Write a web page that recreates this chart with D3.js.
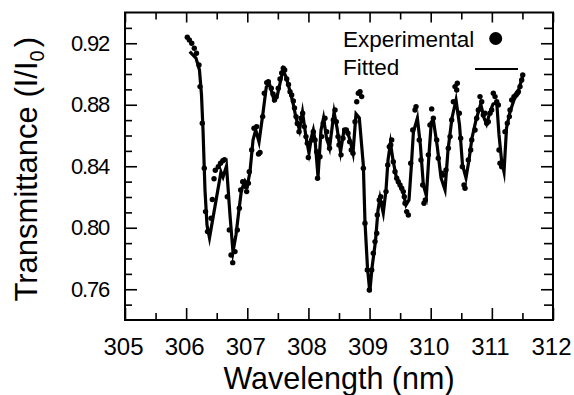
<!DOCTYPE html>
<html>
<head>
<meta charset="utf-8">
<script src="https://cdn.jsdelivr.net/npm/d3@7"></script>
<style>
  html, body { margin: 0; padding: 0; background: #fff; }
  svg { display: block; font-family: "Liberation Sans", Arial, sans-serif; }
</style>
</head>
<body>
<div id="chart"></div>
<script>
// experimental points (wavelength in nm, transmittance I/I0)
const expWavelength = [306.019,306.052,306.091,306.133,306.169,306.210,306.227,306.264,306.297,306.317,
  306.349,306.407,306.428,306.456,306.477,306.526,306.562,306.600,306.627,306.673,
  306.706,306.734,306.762,306.799,306.837,306.870,306.892,306.925,306.951,306.979,
  306.990,307.017,307.033,307.072,307.110,307.154,307.184,307.208,307.252,307.278,
  307.318,307.344,307.393,307.421,307.445,307.470,307.507,307.535,307.563,307.589,
  307.612,307.645,307.674,307.699,307.726,307.753,307.772,307.797,307.818,307.846,
  307.879,307.906,307.933,307.960,307.982,307.998,308.054,308.080,308.108,308.135,
  308.149,308.189,308.217,308.243,308.271,308.299,308.325,308.345,308.407,308.435,
  308.456,308.484,308.500,308.533,308.565,308.593,308.620,308.647,308.675,308.701,
  308.729,308.762,308.790,308.816,308.844,308.871,308.898,308.925,308.963,308.996,
  309.035,309.061,309.089,309.117,309.127,309.159,309.182,309.199,309.269,309.297,
  309.323,309.346,309.362,309.388,309.416,309.444,309.470,309.498,309.526,309.552,
  309.568,309.580,309.607,309.634,309.673,309.706,309.743,309.760,309.813,309.841,
  309.869,309.890,309.912,309.961,309.988,310.016,310.043,310.098,310.124,310.180,
  310.206,310.250,310.288,310.316,310.343,310.370,310.397,310.425,310.435,310.468,
  310.490,310.517,310.545,310.561,310.615,310.654,310.671,310.725,310.752,310.779,
  310.806,310.834,310.860,310.888,310.916,310.942,310.970,310.997,311.024,311.052,
  311.080,311.106,311.117,311.133,311.161,311.215,311.253,311.286,311.297,311.325,
  311.362,311.395,311.416,311.433,311.461,311.488,311.505];
const expTransmittance = [0.9239,0.9221,0.9200,0.9167,0.9135,0.9059,0.8918,0.8680,0.8387,0.8105,
  0.7975,0.8062,0.8184,0.8319,0.8374,0.8397,0.8420,0.8436,0.8443,0.8202,
  0.7986,0.7823,0.7773,0.7845,0.7986,0.8127,0.8246,0.8300,0.8293,0.8267,
  0.8235,0.8289,0.8365,0.8506,0.8647,0.8658,0.8480,0.8490,0.8723,0.8875,
  0.8944,0.8950,0.8907,0.8870,0.8831,0.8851,0.8907,0.8968,0.9007,0.9037,
  0.9026,0.8968,0.8932,0.8885,0.8864,0.8825,0.8779,0.8723,0.8678,0.8625,
  0.8712,0.8745,0.8658,0.8593,0.8550,0.8457,0.8571,0.8625,0.8571,0.8495,
  0.8322,0.8462,0.8593,0.8680,0.8712,0.8625,0.8571,0.8517,0.8701,0.8766,
  0.8690,0.8593,0.8539,0.8474,0.8582,0.8636,0.8636,0.8615,0.8560,0.8506,
  0.8485,0.8690,0.8820,0.8875,0.8885,0.8853,0.8387,0.8029,0.7726,0.7595,
  0.7726,0.7834,0.7910,0.7964,0.8083,0.8181,0.8202,0.8159,0.8235,0.8408,
  0.8527,0.8539,0.8571,0.8430,0.8365,0.8322,0.8300,0.8278,0.8257,0.8235,
  0.8202,0.8159,0.8105,0.8083,0.8420,0.8636,0.8766,0.8788,0.8571,0.8441,
  0.8278,0.8159,0.8181,0.8474,0.8669,0.8773,0.8712,0.8571,0.8452,0.8354,
  0.8343,0.8376,0.8517,0.8593,0.8701,0.8820,0.8918,0.8896,0.8940,0.8745,
  0.8582,0.8397,0.8278,0.8257,0.8441,0.8506,0.8571,0.8636,0.8712,0.8766,
  0.8853,0.8820,0.8734,0.8745,0.8680,0.8690,0.8745,0.8766,0.8875,0.8853,
  0.8820,0.8799,0.8506,0.8420,0.8397,0.8625,0.8680,0.8723,0.8766,0.8831,
  0.8853,0.8864,0.8875,0.8885,0.8918,0.8961,0.8994];

// fitted curve vertices
const fitWavelength = [306.058,306.161,306.218,306.251,306.276,306.308,306.341,306.382,306.570,306.603,
  306.660,306.717,306.766,306.815,306.864,306.905,306.963,307.003,307.044,307.094,
  307.138,307.192,307.257,307.311,307.363,307.437,307.486,307.584,307.641,307.748,
  307.797,307.854,307.903,307.960,308.009,308.050,308.080,308.108,308.157,308.206,
  308.247,308.296,308.345,308.419,308.468,308.525,308.582,308.631,308.680,308.729,
  308.778,308.832,308.898,308.925,308.966,309.004,309.040,309.097,309.138,309.171,
  309.224,309.269,309.302,309.342,309.383,309.433,309.498,309.547,309.596,309.645,
  309.684,309.717,309.782,309.831,309.880,309.929,309.977,310.010,310.043,310.104,
  310.169,310.234,310.283,310.348,310.414,310.471,310.520,310.577,310.626,310.675,
  310.741,310.818,310.872,310.913,310.970,311.019,311.080,311.117,311.158,311.199,
  311.240,311.297,311.362,311.428,311.505];
const fitTransmittance = [0.9145,0.9104,0.9026,0.8864,0.8636,0.8246,0.8018,0.7934,0.8363,0.8330,
  0.8402,0.8083,0.7843,0.7953,0.8116,0.8246,0.8304,0.8278,0.8363,0.8571,
  0.8636,0.8558,0.8746,0.8916,0.8935,0.8831,0.8851,0.9026,0.8974,0.8812,
  0.8714,0.8636,0.8753,0.8591,0.8486,0.8591,0.8636,0.8571,0.8331,0.8636,
  0.8714,0.8584,0.8519,0.8753,0.8649,0.8493,0.8636,0.8630,0.8571,0.8487,
  0.8741,0.8714,0.8408,0.8038,0.7739,0.7582,0.7739,0.7914,0.8116,0.8194,
  0.8096,0.8246,0.8441,0.8551,0.8441,0.8337,0.8272,0.8233,0.8148,0.8181,
  0.8408,0.8623,0.8714,0.8538,0.8278,0.8207,0.8506,0.8688,0.8701,0.8538,
  0.8324,0.8246,0.8506,0.8714,0.8831,0.8668,0.8408,0.8324,0.8441,0.8584,
  0.8701,0.8805,0.8714,0.8675,0.8753,0.8805,0.8812,0.8604,0.8441,0.8363,
  0.8649,0.8753,0.8831,0.8883,0.8987];

const xTicks = [305, 306, 307, 308, 309, 310, 311, 312];
const yTicks = [0.76, 0.80, 0.84, 0.88, 0.92];
const legendLabels = ['Experimental', 'Fitted'];

const W = 574, H = 395;
const margin = { top: 12.5, right: 21, bottom: 75, left: 125 };
const width = W - margin.left - margin.right;
const height = H - margin.top - margin.bottom;

const svg = d3.select('#chart').append('svg')
  .attr('width', W)
  .attr('height', H);

const g = svg.append('g')
  .attr('transform', `translate(${margin.left},${margin.top})`);

const x = d3.scaleLinear().domain([305, 312]).range([0, width]);
const y = d3.scaleLinear().domain([0.74, 0.94]).range([height, 0]);

const xMinor = d3.range(305.5, 312, 1);
const yMinor = d3.range(75, 94).map(d => d / 100).filter(d => Math.round(d * 100) % 4 !== 0);

const tickStyle = a => a.selectAll('.tick line').attr('stroke', '#000').attr('stroke-width', 1.6);

// bottom axis
g.append('g')
  .attr('transform', `translate(0,${height})`)
  .call(d3.axisBottom(x).tickValues(xTicks).tickFormat(d3.format('d')).tickSizeInner(-12).tickSizeOuter(0).tickPadding(18))
  .call(a => a.select('.domain').remove())
  .call(tickStyle)
  .call(a => a.selectAll('.tick text').attr('font-size', 24).attr('fill', '#000').attr('dx', -2).attr('font-family', 'Liberation Sans, Arial, sans-serif'));
g.append('g')
  .attr('transform', `translate(0,${height})`)
  .call(d3.axisBottom(x).tickValues(xMinor).tickFormat('').tickSizeInner(-7).tickSizeOuter(0))
  .call(a => a.select('.domain').remove())
  .call(tickStyle);

// top axis
g.append('g')
  .call(d3.axisTop(x).tickValues(xTicks).tickFormat('').tickSizeInner(-10).tickSizeOuter(0))
  .call(a => a.select('.domain').remove())
  .call(tickStyle);
g.append('g')
  .call(d3.axisTop(x).tickValues(xMinor).tickFormat('').tickSizeInner(-7).tickSizeOuter(0))
  .call(a => a.select('.domain').remove())
  .call(tickStyle);

// left axis
g.append('g')
  .call(d3.axisLeft(y).tickValues(yTicks).tickFormat(d3.format('.2f')).tickSizeInner(-12).tickSizeOuter(0).tickPadding(16))
  .call(a => a.select('.domain').remove())
  .call(tickStyle)
  .call(a => a.selectAll('.tick text').attr('font-size', 22).attr('fill', '#000').attr('letter-spacing', -1.2).attr('font-family', 'Liberation Sans, Arial, sans-serif'));
g.append('g')
  .call(d3.axisLeft(y).tickValues(yMinor).tickFormat('').tickSizeInner(-7).tickSizeOuter(0))
  .call(a => a.select('.domain').remove())
  .call(tickStyle);

// right axis
g.append('g')
  .attr('transform', `translate(${width},0)`)
  .call(d3.axisRight(y).tickValues(yTicks).tickFormat('').tickSizeInner(-12).tickSizeOuter(0))
  .call(a => a.select('.domain').remove())
  .call(tickStyle);
g.append('g')
  .attr('transform', `translate(${width},0)`)
  .call(d3.axisRight(y).tickValues(yMinor).tickFormat('').tickSizeInner(-9).tickSizeOuter(0))
  .call(a => a.select('.domain').remove())
  .call(tickStyle);

// frame
g.append('rect')
  .attr('width', width)
  .attr('height', height)
  .attr('fill', 'none')
  .attr('stroke', '#000')
  .attr('stroke-width', 2);

// fitted line
const fit = fitWavelength.map((w, i) => ({ w, t: fitTransmittance[i] }));
g.append('path')
  .datum(fit)
  .attr('fill', 'none')
  .attr('stroke', '#000')
  .attr('stroke-width', 3.2)
  .attr('stroke-linejoin', 'miter')
  .attr('stroke-miterlimit', 10)
  .attr('d', d3.line().x(d => x(d.w)).y(d => y(d.t)));

// experimental dots
const exp = expWavelength.map((w, i) => ({ w, t: expTransmittance[i] }));
g.selectAll('circle.exp')
  .data(exp)
  .enter()
  .append('circle')
    .attr('class', 'exp')
    .attr('cx', d => x(d.w))
    .attr('cy', d => y(d.t))
    .attr('r', 2.7)
    .attr('fill', '#000');

// legend
const leg = svg.append('g').attr('font-size', 22.5).attr('fill', '#000');
leg.append('text').attr('x', 343).attr('y', 47).text(legendLabels[0]);
leg.append('circle').attr('cx', 495.7).attr('cy', 38.5).attr('r', 6.5).attr('fill', '#000');
leg.append('text').attr('x', 343).attr('y', 75).text(legendLabels[1]);
leg.append('line').attr('x1', 475).attr('x2', 518).attr('y1', 69).attr('y2', 69)
  .attr('stroke', '#000').attr('stroke-width', 2);

// axis titles
svg.append('text')
  .attr('x', margin.left + width / 2)
  .attr('y', 389)
  .attr('text-anchor', 'middle')
  .attr('font-size', 30.5)
  .text('Wavelength (nm)');

const yTitle = svg.append('text')
  .attr('transform', `translate(37,${margin.top + height / 2 + 3}) rotate(-90)`)
  .attr('text-anchor', 'middle')
  .attr('font-size', 31);
yTitle.append('tspan').text('Transmittance (I/I');
yTitle.append('tspan').attr('font-size', 20).attr('dy', 7).text('0');
yTitle.append('tspan').attr('dy', -7).attr('dx', 3).text(')');
</script>
</body>
</html>
